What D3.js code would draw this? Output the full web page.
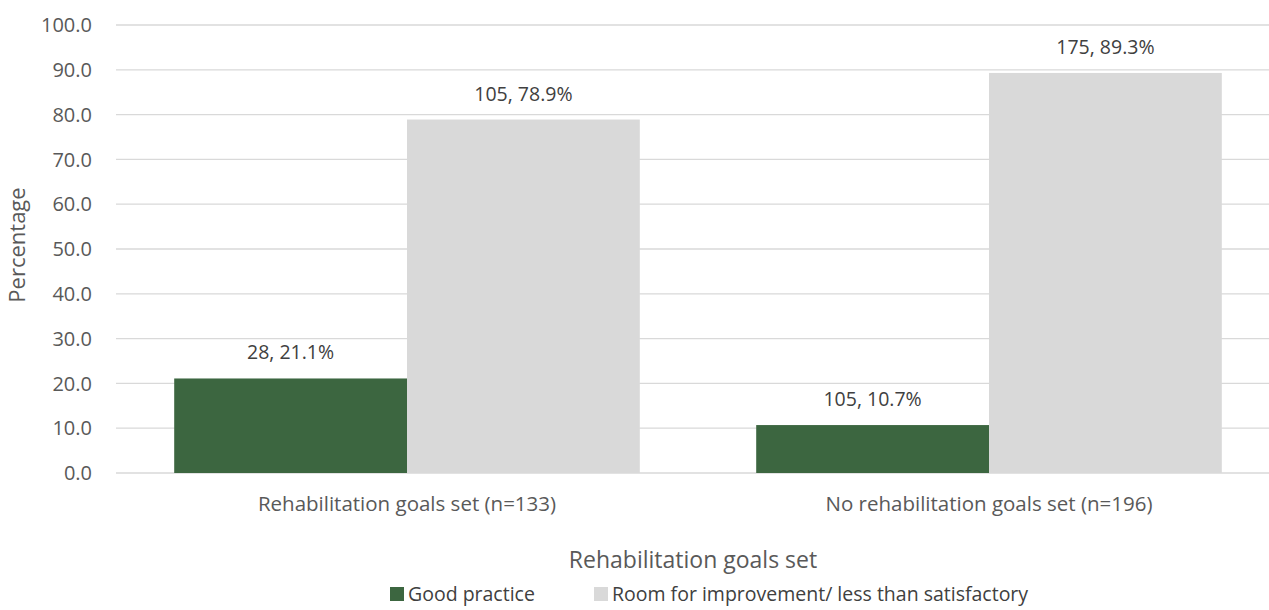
<!DOCTYPE html>
<html>
<head>
    <meta charset="utf-8">
    <title>Rehabilitation goals set</title>
    <script src="https://cdnjs.cloudflare.com/ajax/libs/d3/7.8.5/d3.min.js"></script>
    <style>
        body { margin: 0; background: #fff; }
        text { font-family: "Open Sans", "Liberation Sans", sans-serif; fill: #595959; }
    </style>
</head>
<body>
<script type="text/javascript">
    var categories = ["Rehabilitation goals set (n=133)", "No rehabilitation goals set (n=196)"];
    var seriesNames = ["Good practice", "Room for improvement/ less than satisfactory"];
    var goodPct = [21.1, 10.7];
    var goodN = [28, 105];
    var roomPct = [78.9, 89.3];
    var roomN = [105, 175];
    var yTicks = [0, 10, 20, 30, 40, 50, 60, 70, 80, 90, 100];
    var colors = ["#3c6640", "#d9d9d9"];

    var width = 1269,
        height = 610;

    var svg = d3.select("body").append("svg")
        .attr("width", width)
        .attr("height", height);

    // plot area runs past the right edge (picture is cropped there)
    var x = d3.scaleBand()
        .domain(categories)
        .range([116, 1280])
        .paddingOuter(0.1)
        .paddingInner(0.2);

    var x1 = d3.scaleBand()
        .domain(seriesNames)
        .range([0, x.bandwidth()]);

    var y = d3.scaleLinear()
        .domain([0, 100])
        .range([473, 25]);

    // grid lines
    svg.append("g").selectAll("line")
        .data(yTicks)
        .enter().append("line")
        .attr("x1", 116)
        .attr("x2", width)
        .attr("y1", function(d){ return y(d); })
        .attr("y2", function(d){ return y(d); })
        .attr("stroke", "#d9d9d9")
        .attr("stroke-width", 1.3);

    // y tick labels
    svg.append("g").selectAll("text")
        .data(yTicks)
        .enter().append("text")
        .attr("x", 92)
        .attr("y", function(d){ return y(d); })
        .attr("dy", "0.36em")
        .attr("text-anchor", "end")
        .style("font-size", "20px")
        .text(function(d){ return d.toFixed(1); });

    var rows = categories.map(function(c, i){
        return [
            {cat: c, s: seriesNames[0], v: goodPct[i], n: goodN[i]},
            {cat: c, s: seriesNames[1], v: roomPct[i], n: roomN[i]}
        ];
    });
    var flat = [].concat.apply([], rows);

    svg.append("g").selectAll("rect")
        .data(flat)
        .enter().append("rect")
        .attr("x", function(d){ return x(d.cat) + x1(d.s); })
        .attr("y", function(d){ return y(d.v); })
        .attr("width", x1.bandwidth())
        .attr("height", function(d){ return y(0) - y(d.v); })
        .attr("fill", function(d){ return d.s === seriesNames[0] ? colors[0] : colors[1]; });

    // value labels
    svg.append("g").selectAll("text")
        .data(flat)
        .enter().append("text")
        .attr("x", function(d){ return x(d.cat) + x1(d.s) + x1.bandwidth() / 2; })
        .attr("y", function(d){ return y(d.v) - 19; })
        .attr("text-anchor", "middle")
        .style("font-size", "19.5px")
        .style("fill", "#404040")
        .text(function(d){ return d.n + ", " + d.v.toFixed(1) + "%"; });

    // category labels
    svg.append("g").selectAll("text")
        .data(categories)
        .enter().append("text")
        .attr("x", function(d){ return x(d) + x.bandwidth() / 2; })
        .attr("y", 511)
        .attr("text-anchor", "middle")
        .style("font-size", "20.5px")
        .text(function(d){ return d; });

    // axis titles
    svg.append("text")
        .attr("x", 693)
        .attr("y", 568)
        .attr("text-anchor", "middle")
        .style("font-size", "23px")
        .text("Rehabilitation goals set");

    svg.append("text")
        .attr("transform", "translate(25,245) rotate(-90)")
        .attr("text-anchor", "middle")
        .style("font-size", "22px")
        .text("Percentage");

    // legend
    var legendX = [390, 594];
    var legend = svg.append("g").selectAll("g")
        .data(seriesNames)
        .enter().append("g")
        .attr("transform", function(d, i){ return "translate(" + legendX[i] + ",587)"; });

    legend.append("rect")
        .attr("width", 14)
        .attr("height", 14)
        .attr("fill", function(d, i){ return colors[i]; });

    legend.append("text")
        .attr("x", 18)
        .attr("y", 14)
        .style("font-size", "19.5px")
        .style("fill", "#404040")
        .text(function(d){ return d; });
</script>
</body>
</html>
